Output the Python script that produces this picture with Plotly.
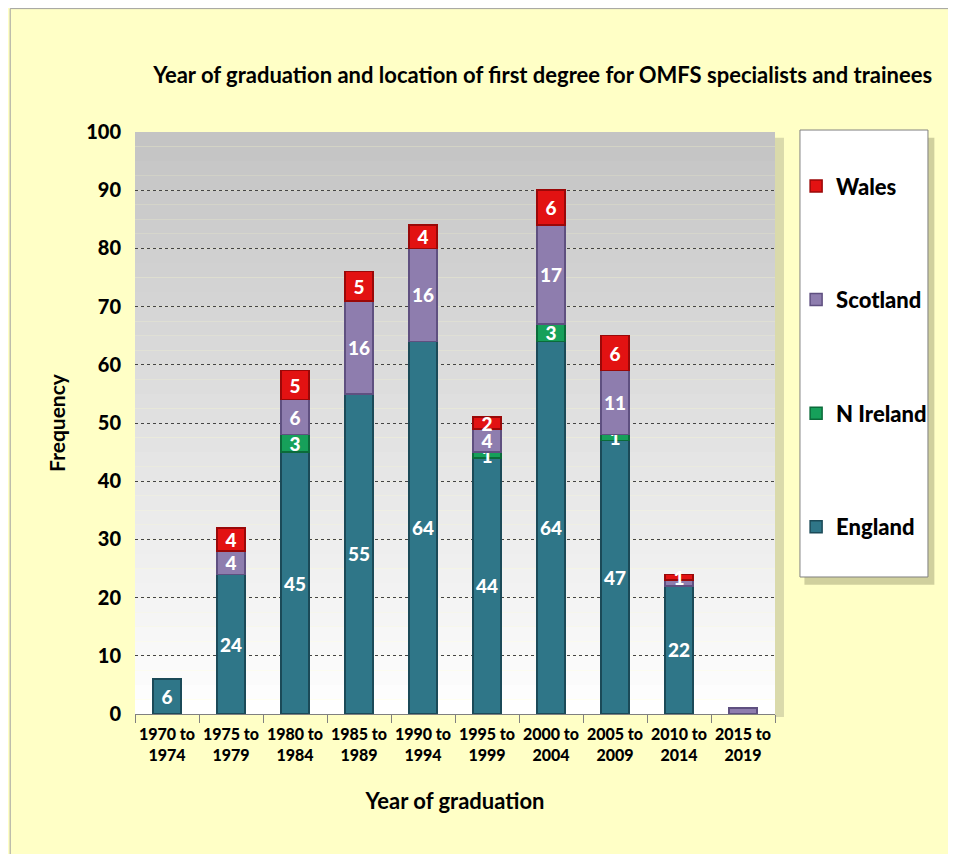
import plotly.graph_objects as go

categories = ["1970 to<br>1974", "1975 to<br>1979", "1980 to<br>1984", "1985 to<br>1989",
              "1990 to<br>1994", "1995 to<br>1999", "2000 to<br>2004", "2005 to<br>2009",
              "2010 to<br>2014", "2015 to<br>2019"]
england = [6, 24, 45, 55, 64, 44, 64, 47, 22, 0]
n_ireland = [0, 0, 3, 0, 0, 1, 3, 1, 0, 0]
scotland = [0, 4, 6, 16, 16, 4, 17, 11, 1, 1]
wales = [0, 4, 5, 5, 4, 2, 6, 6, 1, 0]

# labels that are covered by a neighbouring label in the reference
hidden_labels = {("Scotland", 8), ("Scotland", 9)}

series = [
    ("England", england, "#2F7688", "#1B4A58", 4),
    ("N Ireland", n_ireland, "#16A05A", "#0B6B3A", 3),
    ("Scotland", scotland, "#8E7DAE", "#5F5080", 2),
    ("Wales", wales, "#E21212", "#9A0808", 1),
]

FONT = "Lato"
fig = go.Figure()
for name, vals, col, line, rank in series:
    texts = [str(v) if v > 0 and (name, i) not in hidden_labels else "" for i, v in enumerate(vals)]
    fig.add_trace(go.Bar(
        x=categories, y=[v if v > 0 else None for v in vals], name=name, legendgroup=name,
        legendrank=rank,
        marker=dict(color=col, line=dict(color=line, width=1.5)),
        width=0.44,
        text=texts,
        textposition="inside", insidetextanchor="middle", textangle=0,
        constraintext="none",
        textfont=dict(color="white", size=19, family=FONT + " Black"),
        hoverinfo="x+y+name",
    ))

# gradient background for plot area
shapes = []
n = 40
for i in range(n):
    t = i / (n - 1)
    g = int(196 + (255 - 196) * t)
    shapes.append(dict(type="rect", xref="paper", yref="paper",
                       x0=0, x1=1, y0=1 - (i + 1) / n, y1=1 - i / n,
                       fillcolor=f"rgb({g},{g},{g})", line=dict(width=0), layer="below"))
# plot area right shadow
shapes.append(dict(type="rect", xref="paper", yref="paper", x0=1.0, x1=1.014, y0=-0.005, y1=0.99,
                   fillcolor="rgba(150,150,120,0.35)", line=dict(width=0), layer="below"))
# legend box shadow and box
shapes.append(dict(type="rect", xref="paper", yref="paper", x0=1.046, x1=1.249, y0=0.222, y1=0.99,
                   fillcolor="rgba(120,120,80,0.35)", line=dict(width=0), layer="below"))
shapes.append(dict(type="rect", xref="paper", yref="paper", x0=1.039, x1=1.239, y0=0.2354, y1=1.0034,
                   fillcolor="white", line=dict(color="#808080", width=1), layer="below"))
# outer border (left and top)
shapes.append(dict(type="line", xref="paper", yref="paper", x0=-0.195, x1=-0.195, y0=-0.3, y1=1.212,
                   line=dict(color="#A0A0A0", width=1), layer="below"))
shapes.append(dict(type="line", xref="paper", yref="paper", x0=-0.195, x1=1.5, y0=1.212, y1=1.212,
                   line=dict(color="#A0A0A0", width=1), layer="below"))

fig.update_layout(
    width=948, height=846,
    margin=dict(l=127, r=181, t=124, b=140),
    paper_bgcolor="#FFFFC6",
    plot_bgcolor="rgba(0,0,0,0)",
    barmode="stack",
    font=dict(family=FONT, color="black"),
    title=dict(text="<b>Year of graduation and location of first degree for OMFS specialists and trainees</b>",
               x=0.564, xanchor="center", y=0.921, yanchor="middle",
               font=dict(size=22, family=FONT, color="black")),
    xaxis=dict(
        title=dict(text="<b>Year of graduation</b>", font=dict(size=22), standoff=30),
        tickfont=dict(size=16, family=FONT + " Black"), tickangle=0,
        ticks="outside", tickson="boundaries", ticklen=8, tickcolor="#808080",
        ticklabelstandoff=6,
        showline=True, linecolor="#808080", linewidth=1,
        showgrid=False,
    ),
    yaxis=dict(
        title=dict(text="<b>Frequency</b>", font=dict(size=21), standoff=14),
        range=[0, 100], dtick=10,
        tickfont=dict(size=20, family=FONT + " Black"),
        ticklabelstandoff=13,
        showgrid=True, gridcolor="#444444", griddash="dot", gridwidth=1,
        showline=False,
        ticks="", zeroline=False,
    ),
    legend=dict(
        x=1.033, xanchor="left", y=0.943, yanchor="top",
        bgcolor="rgba(0,0,0,0)", borderwidth=0,
        traceorder="grouped", tracegroupgap=82,
        font=dict(size=22, family=FONT + " Black"),
        itemwidth=30,
    ),
    uniformtext=dict(minsize=18, mode="show"),
    shapes=shapes,
)

fig.write_html("out.html")
